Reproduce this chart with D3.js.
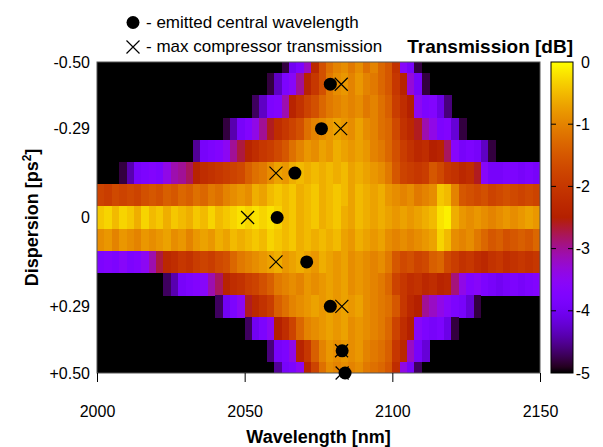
<!DOCTYPE html>
<html lang="en">
<head>
<meta charset="utf-8">
<title>Compressor transmission map</title>
<script src="https://cdn.jsdelivr.net/npm/d3@7"></script>
<style>
  body { margin: 0; background: #fff; }
  text { font-family: "Liberation Sans", Arial, Helvetica, sans-serif; fill: #000; }
</style>
</head>
<body>
<script>
// rows of the map (dispersion, ps^2)
var dispersion = [-0.5, -0.4286, -0.3571, -0.2857, -0.2143, -0.1429, -0.0714, 0,
                  0.0714, 0.1429, 0.2143, 0.2857, 0.3571, 0.4286, 0.5];

// wavelength (nm) of first non-black cell in every row, cells are 2.5 nm wide
var wlStep = 2.5;
var rowStart = [2062.5, 2057.5, 2052.5, 2042.5, 2032.5, 2007.5, 2000, 2000,
                2000, 2000, 2022.5, 2040, 2050, 2057.5, 2060];

// transmission in dB; outside each row everything is < -5 dB
var transmission = [
  [-4.8,-4.0,-3.8,-3.2,-2.3,-1.6,-1.2,-1.0,-0.9,-1.1,-0.9,-1.2,-1.0,-1.3,-1.5,-2.1,-3.6,-3.9,-4.8],
  [-4.8,-4.3,-3.8,-3.6,-3.0,-2.4,-2.0,-1.6,-1.1,-0.9,-0.8,-1.0,-0.8,-1.0,-1.1,-1.3,-1.5,-2.0,-2.4,-3.3,-3.9,-4.8],
  [-4.7,-4.3,-3.8,-3.7,-3.1,-2.4,-2.1,-1.8,-1.6,-1.3,-1.1,-1.0,-0.9,-1.0,-0.9,-1.1,-1.0,-1.2,-1.4,-1.9,-2.2,-2.5,-3.5,-3.8,-3.7,-4.1,-4.6],
  [-4.8,-4.4,-3.9,-3.7,-3.4,-3.0,-2.6,-2.2,-2.0,-1.8,-1.6,-1.2,-1.0,-0.9,-0.8,-0.7,-0.8,-0.9,-0.7,-0.9,-1.0,-1.2,-1.3,-1.7,-2.1,-2.3,-2.6,-3.1,-3.4,-3.8,-3.7,-4.2,-4.8],
  [-4.5,-3.9,-3.8,-3.7,-3.5,-3.0,-2.7,-2.4,-2.2,-2.0,-1.9,-1.7,-1.5,-1.2,-1.0,-0.8,-0.9,-0.7,-0.8,-0.6,-0.7,-0.8,-0.7,-0.8,-1.0,-1.1,-1.3,-1.6,-1.9,-2.1,-2.3,-2.2,-2.5,-2.4,-2.8,-3.6,-3.9,-3.8,-3.9,-4.3,-4.8],
  [-4.8,-4.4,-3.9,-3.8,-3.7,-3.8,-3.4,-3.1,-3.0,-2.8,-2.4,-2.2,-2.1,-2.0,-1.9,-1.8,-1.7,-1.4,-1.2,-1.1,-0.9,-0.7,-0.8,-0.6,-0.5,-0.6,-0.5,-0.6,-0.5,-0.6,-0.5,-0.7,-0.6,-0.7,-0.8,-0.9,-1.1,-1.5,-1.8,-1.9,-2.0,-1.9,-1.5,-1.7,-2.0,-2.1,-2.3,-2.2,-2.6,-3.6,-3.9,-3.9,-3.8,-3.8,-3.9,-3.8,-3.9],
  [-1.8,-1.9,-1.7,-1.8,-1.7,-1.8,-1.6,-1.5,-1.6,-1.4,-1.5,-1.3,-1.4,-1.2,-1.3,-1.1,-1.2,-1.0,-0.9,-0.8,-0.9,-0.6,-0.7,-0.5,-0.4,-0.5,-0.4,-0.6,-0.5,-0.4,-0.6,-0.5,-0.4,-0.5,-0.7,-0.5,-0.6,-0.7,-0.6,-0.8,-0.9,-1.0,-0.9,-1.1,-1.0,-0.9,-0.4,-0.5,-1.0,-1.5,-1.6,-1.7,-1.6,-1.8,-1.7,-1.6,-1.7,-1.8,-1.7,-1.8],
  [-0.4,-0.3,-0.5,-0.3,-0.4,-0.6,-0.3,-0.5,-0.4,-0.6,-0.4,-0.5,-0.6,-0.4,-0.5,-0.3,-0.5,-0.4,-0.3,-0.2,-0.3,-0.2,-0.3,-0.2,-0.3,-0.5,-0.4,-0.6,-0.5,-0.4,-0.6,-0.5,-0.4,-0.6,-0.7,-0.5,-0.6,-0.7,-0.6,-0.7,-0.8,-0.7,-0.8,-0.7,-0.6,-0.5,-0.2,-0.1,-0.6,-0.8,-0.9,-0.8,-0.9,-1.0,-0.9,-0.8,-0.9,-0.8,-0.7,-0.8],
  [-0.9,-0.8,-1.0,-0.8,-0.9,-1.0,-0.8,-0.9,-0.8,-0.7,-0.9,-0.8,-1.0,-0.8,-0.7,-0.8,-0.6,-0.7,-0.5,-0.6,-0.5,-0.4,-0.5,-0.3,-0.4,-0.5,-0.4,-0.6,-0.5,-0.6,-0.5,-0.6,-0.5,-0.7,-0.8,-0.6,-0.7,-0.8,-0.7,-0.9,-1.0,-0.9,-1.0,-0.9,-0.8,-0.7,-0.3,-0.5,-0.9,-1.0,-0.9,-1.1,-1.3,-1.5,-1.4,-1.6,-1.5,-1.4,-1.5,-1.3],
  [-3.8,-3.7,-3.8,-3.6,-3.8,-3.7,-3.5,-3.1,-2.7,-2.3,-2.2,-2.0,-2.1,-1.9,-1.8,-1.9,-1.7,-1.6,-1.3,-1.1,-1.0,-0.9,-0.8,-0.7,-0.6,-0.8,-0.7,-0.6,-0.7,-0.8,-0.6,-0.7,-0.8,-0.7,-0.9,-0.8,-0.9,-1.0,-0.9,-1.1,-1.5,-1.7,-1.6,-1.8,-1.7,-1.4,-1.3,-1.7,-1.9,-2.1,-2.0,-2.2,-2.3,-2.1,-2.0,-2.2,-2.1,-2.0,-2.1,-2.0],
  [-4.7,-4.4,-3.9,-3.8,-3.7,-3.6,-3.1,-2.8,-2.4,-2.2,-2.1,-1.9,-1.8,-1.6,-1.4,-1.1,-1.0,-0.9,-1.0,-0.8,-0.9,-0.8,-0.7,-0.8,-0.7,-0.9,-0.8,-0.9,-1.0,-1.1,-1.3,-1.8,-2.0,-2.2,-2.1,-2.3,-2.2,-2.4,-2.3,-2.9,-3.4,-3.7,-3.6,-3.8,-3.9,-4.0,-3.9,-3.8,-3.9,-3.8,-3.7],
  [-4.7,-4.0,-3.8,-3.5,-2.6,-2.3,-2.1,-1.9,-1.4,-1.2,-1.0,-0.9,-0.8,-0.7,-0.8,-0.7,-0.8,-0.7,-0.8,-0.7,-0.9,-1.0,-1.1,-1.2,-1.5,-2.0,-2.3,-2.5,-3.0,-3.2,-3.4,-3.6,-3.8,-3.9,-4.2,-4.8],
  [-4.7,-4.0,-3.8,-3.5,-2.5,-2.2,-1.8,-1.3,-1.0,-0.9,-0.8,-0.7,-0.8,-0.7,-0.9,-0.8,-0.9,-1.0,-1.1,-1.3,-1.8,-2.2,-2.5,-3.6,-3.8,-3.9,-3.8,-4.1,-4.8],
  [-4.6,-3.9,-3.8,-3.4,-2.4,-2.0,-1.4,-1.0,-0.8,-0.9,-0.8,-0.9,-0.8,-1.0,-1.1,-1.2,-1.4,-2.0,-2.3,-3.2,-3.9,-4.2],
  [-4.5,-3.9,-3.8,-3.5,-2.4,-1.8,-1.2,-0.9,-1.0,-0.9,-1.0,-0.9,-1.1,-1.2,-1.3,-1.5,-2.2,-3.4,-3.9,-4.7]
];

// markers
var emittedDisp = [-0.4286, -0.2857, -0.1429, 0, 0.1429, 0.2857, 0.4286, 0.5];
var emittedWl   = [2079, 2076, 2067, 2061, 2071, 2079, 2083, 2084];
var maxTransDisp = [-0.4286, -0.2857, -0.1429, 0, 0.1429, 0.2857, 0.4286, 0.5];
var maxTransWl   = [2082.7, 2082.5, 2060.6, 2051, 2060.6, 2082.9, 2082.8, 2083];

// axis ticks
var xTicks = [2000, 2050, 2100, 2150];
var yTicks = [-0.5, -0.2857, 0, 0.2857, 0.5];
var yTickLabels = ["-0.50", "-0.29", "0", "+0.29", "+0.50"];
var cbTicks = [0, -1, -2, -3, -4, -5];

var w = 603, h = 447;
var pLeft = 97, pRight = 540, pTop = 62, pBottom = 373;
var cbLeft = 551, cbRight = 573;

// gnuplot default pm3d palette (rgbformulae 7,5,15)
function gnuplotPalette(t) {
  var r = Math.sqrt(t), g = t * t * t, b = Math.max(0, Math.sin(2 * Math.PI * t));
  return d3.rgb(r * 255, g * 255, b * 255).toString();
}

var xScale = d3.scaleLinear().domain([2000, 2150]).range([pLeft, pRight]);
var yScale = d3.scaleLinear().domain([-0.5, 0.5]).range([pTop, pBottom]);
var color = d3.scaleSequential(gnuplotPalette).domain([-5, 0]).clamp(true);
var cbScale = d3.scaleLinear().domain([0, -5]).range([pTop, pBottom]);

var svg = d3.select("body").append("svg")
  .attr("width", w).attr("height", h);

svg.append("clipPath").attr("id", "plotclip")
  .append("rect")
  .attr("x", pLeft).attr("y", pTop)
  .attr("width", pRight - pLeft).attr("height", pBottom - pTop);

var plot = svg.append("g").attr("clip-path", "url(#plotclip)");

// everything below -5 dB is black
plot.append("rect")
  .attr("x", pLeft).attr("y", pTop)
  .attr("width", pRight - pLeft).attr("height", pBottom - pTop)
  .attr("fill", "#000");

var halfRow = (dispersion[1] - dispersion[0]) / 2;
var cellW = xScale(2000 + wlStep) - xScale(2000);

var cells = [];
transmission.forEach(function(row, i) {
  row.forEach(function(v, j) {
    cells.push({ d: dispersion[i], wl: rowStart[i] + j * wlStep, v: v });
  });
});

plot.selectAll("rect.cell")
  .data(cells)
  .enter()
  .append("rect")
  .attr("class", "cell")
  .attr("x", function(c) { return xScale(c.wl); })
  .attr("y", function(c) { return yScale(c.d - halfRow); })
  .attr("width", cellW + 0.4)
  .attr("height", yScale(halfRow * 2) - yScale(0) + 0.4)
  .attr("fill", function(c) { return color(c.v); })
  .attr("shape-rendering", "crispEdges");

// frame
svg.append("rect")
  .attr("x", pLeft).attr("y", pTop)
  .attr("width", pRight - pLeft).attr("height", pBottom - pTop)
  .attr("fill", "none").attr("stroke", "#555").attr("stroke-width", 1);

// x axis
var xAxis = svg.append("g")
  .attr("transform", "translate(0," + pBottom + ")")
  .call(d3.axisBottom(xScale).tickValues(xTicks).tickSize(9).tickPadding(24).tickFormat(d3.format("d")));
xAxis.select(".domain").remove();
xAxis.selectAll("text").attr("font-size", 16).attr("font-family", null);

// y labels
svg.selectAll("text.ylab")
  .data(yTicks)
  .enter()
  .append("text")
  .attr("class", "ylab")
  .attr("x", 90)
  .attr("y", function(d) { return yScale(d); })
  .attr("dy", "0.35em")
  .attr("text-anchor", "end")
  .attr("font-size", 16)
  .text(function(d, i) { return yTickLabels[i]; });

// markers
var sym = svg.append("g");
sym.selectAll("circle")
  .data(emittedWl)
  .enter()
  .append("circle")
  .attr("cx", function(d) { return xScale(d); })
  .attr("cy", function(d, i) { return yScale(emittedDisp[i]); })
  .attr("r", 6.5)
  .attr("fill", "#000");

function cross(g, x, y, s) {
  g.append("path")
    .attr("d", "M" + (x - s) + "," + (y - s) + "L" + (x + s) + "," + (y + s) +
               "M" + (x - s) + "," + (y + s) + "L" + (x + s) + "," + (y - s))
    .attr("stroke", "#000").attr("stroke-width", 1.2).attr("fill", "none");
}
maxTransWl.forEach(function(d, i) {
  cross(sym, xScale(d), yScale(maxTransDisp[i]), 6.5);
});

// colorbar
var grad = svg.append("defs").append("linearGradient")
  .attr("id", "cbgrad").attr("x1", 0).attr("y1", 1).attr("x2", 0).attr("y2", 0);
grad.selectAll("stop")
  .data(d3.range(0, 1.0001, 0.02))
  .enter()
  .append("stop")
  .attr("offset", function(t) { return t; })
  .attr("stop-color", function(t) { return gnuplotPalette(t); });

svg.append("rect")
  .attr("x", cbLeft).attr("y", pTop)
  .attr("width", cbRight - cbLeft).attr("height", pBottom - pTop)
  .attr("fill", "url(#cbgrad)")
  .attr("stroke", "#000").attr("stroke-width", 1);

svg.selectAll("path.cbtick")
  .data(cbTicks.slice(1, 5))
  .enter()
  .append("path")
  .attr("class", "cbtick")
  .attr("d", function(v) {
    var y = cbScale(v);
    return "M" + cbLeft + "," + y + "h5M" + cbRight + "," + y + "h-5";
  })
  .attr("stroke", "#000").attr("stroke-width", 1);

svg.selectAll("text.cblab")
  .data(cbTicks)
  .enter()
  .append("text")
  .attr("class", "cblab")
  .attr("x", 590)
  .attr("y", function(v) { return cbScale(v); })
  .attr("dy", "0.35em")
  .attr("text-anchor", "end")
  .attr("font-size", 16)
  .text(function(v) { return v; });

svg.append("text")
  .attr("x", 573).attr("y", 53)
  .attr("text-anchor", "end")
  .attr("font-size", 19).attr("font-weight", "bold")
  .text("Transmission [dB]");

// axis titles
svg.append("text")
  .attr("x", (pLeft + pRight) / 2).attr("y", 443)
  .attr("text-anchor", "middle")
  .attr("font-size", 18).attr("font-weight", "bold")
  .text("Wavelength [nm]");

var yt = svg.append("text")
  .attr("transform", "translate(38," + ((pTop + pBottom) / 2) + ") rotate(-90)")
  .attr("text-anchor", "middle")
  .attr("font-size", 18).attr("font-weight", "bold");
yt.append("tspan").text("Dispersion [ps");
yt.append("tspan").attr("font-size", 12).attr("dy", -7).text("2");
yt.append("tspan").attr("dy", 7).text("]");

// legend
var leg = svg.append("g");
leg.append("circle").attr("cx", 133).attr("cy", 22.5).attr("r", 6.5).attr("fill", "#000");
leg.append("text").attr("x", 146).attr("y", 27.5).attr("font-size", 17)
  .text("- emitted central wavelength");
cross(leg, 133, 47, 6.5);
leg.append("text").attr("x", 146).attr("y", 52).attr("font-size", 17)
  .text("- max compressor transmission");
</script>
</body>
</html>
